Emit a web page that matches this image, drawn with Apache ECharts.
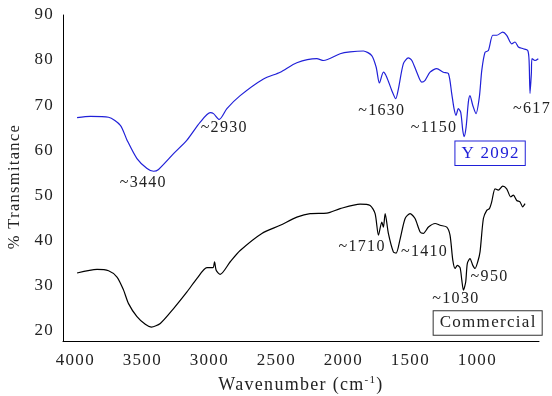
<!DOCTYPE html>
<html>
<head>
<meta charset="utf-8">
<script src="https://cdn.jsdelivr.net/npm/echarts@6/dist/echarts.min.js"></script>
<style>html,body{margin:0;padding:0;background:#fff;}#c{width:552px;height:396px;}</style>
</head>
<body>
<div id="c"></div>
<script>
// Y2092 (blue) spectrum
var blueWn = [3987,3888,3752,3664,3614,3540,3465,3416,3379,3267,3167,3068,2993,2969,2926,2869,2770,2596,2471,2347,2198,2148,2024,1950,1850,1788,1755,1731,1701,1676,1638,1609,1589,1552,1515,1489,1452,1415,1390,1353,1303,1254,1216,1191,1174,1159,1142,1124,1109,1099,1084,1067,1055,1034,1010,985,967,943,918,885,855,811,781,744,719,694,657,624,614,607,597,592,570,545];
var blueT = [67.2,67.5,67.3,65.5,62.2,58.1,55.9,55.3,55.7,59.2,62.2,66.2,68.3,68.1,66.8,69.2,72.1,75.8,77.3,79.4,80.3,79.9,81.4,81.8,82.0,81.0,78.4,74.9,77.3,76.2,73.2,71.4,73.6,79.2,80.5,79.9,77.3,75.1,75.5,77.3,78.1,77.3,77.0,72.5,69.2,67.7,69.2,68.4,64.4,63.0,65.1,70.7,72.1,69.9,68.1,71.8,77.7,81.7,82.1,85.5,85.5,86.2,85.5,83.6,84.0,82.9,82.5,82.1,79.9,72.6,77.0,80.3,79.9,80.3];
// Commercial (black) spectrum
var blackWn = [3987,3838,3752,3689,3640,3603,3540,3478,3433,3366,3267,3167,3092,3018,2973,2961,2949,2919,2844,2770,2608,2471,2347,2248,2123,2024,1875,1800,1763,1738,1713,1701,1688,1664,1627,1606,1576,1539,1502,1465,1427,1403,1365,1315,1278,1228,1204,1183,1166,1149,1129,1116,1104,1087,1075,1055,1034,1017,997,980,955,930,910,893,868,843,811,781,751,731,706,682,662,644];
var blackT = [32.7,33.5,33.2,31.8,28.9,25.9,23.0,21.3,20.7,21.5,24.8,28.5,31.5,33.9,33.9,35.2,33.3,32.4,35.2,37.7,41.5,43.3,45.1,45.9,46.0,47.0,48.0,47.7,45.9,41.1,44.0,42.9,45.9,41.5,37.4,37.1,40.3,44.8,45.9,44.8,41.8,41.5,42.9,43.7,43.3,42.9,41.1,35.5,33.7,34.4,33.9,31.1,28.9,30.7,34.8,35.9,34.4,33.7,35.2,37.4,44.8,46.6,47.0,48.5,51.4,51.1,52.0,51.4,49.6,50.0,48.8,48.5,47.4,48.1];
// tick labels
var xTicks = [4000,3500,3000,2500,2000,1500,1000];
var yTicks = [20,30,40,50,60,70,80,90];
// annotations (text, wavenumber, transmittance)
var blueNotes = ['~3440','~2930','~1630','~1150','~617'];
var blueNoteWn = [3493,2889,1713,1323,592];
var blueNoteT = [52.8,65.0,68.8,65.0,69.2];
var blackNotes = ['~1710','~1410','~950','~1030'];
var blackNoteWn = [1860,1394,909,1160];
var blackNoteT = [38.5,37.5,31.8,27.0];
var seriesNames = ['Y 2092','Commercial'];
var legendWn = [905,923];
var legendT = [59.3,21.6];

// the reference typesetting is letter-spaced: apply a small tracking to all canvas text
(function(){
  var LS = '1.3px';
  var p = CanvasRenderingContext2D.prototype;
  var f = p.fillText, s = p.strokeText, m = p.measureText;
  p.fillText = function(){ this.letterSpacing = LS; return f.apply(this, arguments); };
  p.strokeText = function(){ this.letterSpacing = LS; return s.apply(this, arguments); };
  p.measureText = function(){ this.letterSpacing = LS; return m.apply(this, arguments); };
})();

var FONT = 'Liberation Serif';
function pairs(a,b){return a.map(function(v,i){return [v,b[i]];});}
function notes(t,w,v){
  return t.map(function(s,i){return {name:s, coord:[w[i],v[i]]};});
}
var txt = {show:true, position:'inside', formatter:function(p){return p.name;}, fontFamily:FONT, fontSize:16, color:'#222'};

var chart = echarts.init(document.getElementById('c'));
chart.setOption({
  animation:false,
  backgroundColor:'#fff',
  grid:{left:63, right:13, top:15, bottom:55, containLabel:false, outerBoundsMode:'none'},
  xAxis:{
    type:'value', inverse:true, min:540, max:4092,
    axisLine:{show:true, lineStyle:{color:'#000', width:1}},
    axisTick:{show:false}, splitLine:{show:false},
    axisLabel:{customValues:xTicks, formatter:function(v){return String(v);}, fontFamily:FONT, fontSize:17, color:'#222', margin:10},
    name:'Wavenumber (cm{sup|-1})', nameLocation:'middle', nameGap:33,
    nameTextStyle:{fontFamily:FONT, fontSize:18, color:'#222',
      rich:{sup:{fontFamily:FONT, fontSize:11, color:'#222', padding:[0,0,9,0]}}}
  },
  yAxis:{
    type:'value', min:17.6, max:90,
    axisLine:{show:true, lineStyle:{color:'#000', width:1}},
    axisTick:{show:false}, splitLine:{show:false},
    axisLabel:{customValues:yTicks, formatter:function(v){return String(v);}, fontFamily:FONT, fontSize:17, color:'#222', margin:9},
    name:'% Transmitance', nameLocation:'middle', nameRotate:90, nameGap:37,
    nameTextStyle:{fontFamily:FONT, fontSize:16.5, color:'#222', padding:[0,17,0,0]}
  },
  series:[
    {
      name:seriesNames[0], type:'line', data:pairs(blueWn,blueT), showSymbol:false, smooth:0.25,
      lineStyle:{color:'#2020d8', width:1.2}, itemStyle:{color:'#2020d8'},
      markPoint:{
        symbol:'circle', symbolSize:1, itemStyle:{color:'rgba(0,0,0,0)'}, animation:false,
        label:txt,
        data:notes(blueNotes,blueNoteWn,blueNoteT).concat([{
          name:seriesNames[0], coord:[legendWn[0],legendT[0]],
          label:{show:true, position:'inside', formatter:function(p){return p.name;}, fontFamily:FONT, fontSize:17, color:'#2020d8',
            borderColor:'#2020d8', borderWidth:1, padding:[3,5,2,6], backgroundColor:'#fff'}
        }])
      }
    },
    {
      name:seriesNames[1], type:'line', data:pairs(blackWn,blackT), showSymbol:false, smooth:0.25,
      lineStyle:{color:'#000', width:1.2}, itemStyle:{color:'#000'},
      markPoint:{
        symbol:'circle', symbolSize:1, itemStyle:{color:'rgba(0,0,0,0)'}, animation:false,
        label:txt,
        data:notes(blackNotes,blackNoteWn,blackNoteT).concat([{
          name:seriesNames[1], coord:[legendWn[1],legendT[1]],
          label:{show:true, position:'inside', formatter:function(p){return p.name;}, fontFamily:FONT, fontSize:17, color:'#222',
            borderColor:'#333', borderWidth:1, padding:[3,5,2,6], backgroundColor:'#fff'}
        }])
      }
    }
  ]
});
</script>
</body>
</html>
